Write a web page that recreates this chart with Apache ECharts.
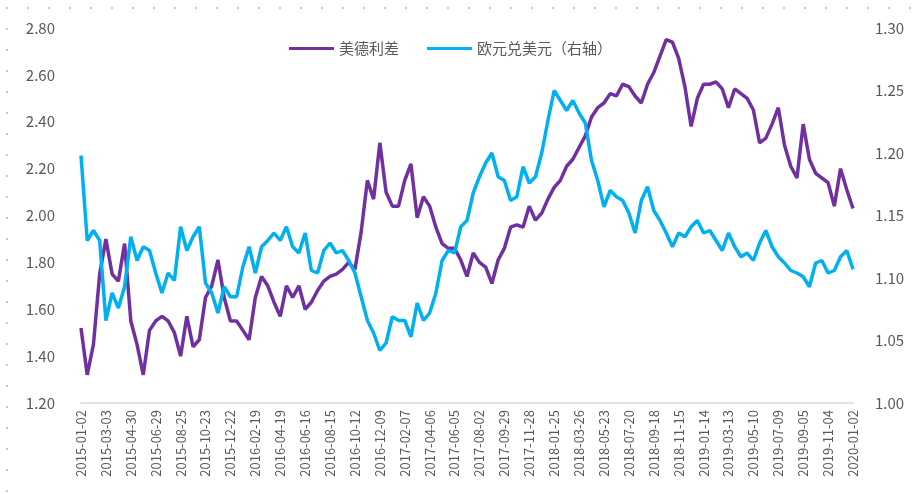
<!DOCTYPE html>
<html>
<head>
<meta charset="utf-8">
<script src="https://cdn.jsdelivr.net/npm/echarts@6/dist/echarts.min.js"></script>
<style>
  html, body { margin: 0; padding: 0; background: #fff; }
  #chart { width: 916px; height: 494px; }
</style>
</head>
<body>
<div id="chart"></div>
<script>
  // tick labels on the date axis, every 4th point
  const tickLabels = [
    "2015-01-02", "2015-03-03", "2015-04-30", "2015-06-29", "2015-08-25", "2015-10-23",
    "2015-12-22", "2016-02-19", "2016-04-19", "2016-06-16", "2016-08-15", "2016-10-12",
    "2016-12-09", "2017-02-07", "2017-04-06", "2017-06-05", "2017-08-02", "2017-09-29",
    "2017-11-28", "2018-01-25", "2018-03-26", "2018-05-23", "2018-07-20", "2018-09-18",
    "2018-11-15", "2019-01-14", "2019-03-13", "2019-05-10", "2019-07-09", "2019-09-05",
    "2019-11-04", "2020-01-02"
  ];
  const pointsPerTick = 4;

  // 美德利差 (left axis)
  const spread = [
    1.52, 1.32, 1.45, 1.75, 1.90, 1.75, 1.72, 1.88, 1.55, 1.45, 1.32, 1.51, 1.55, 1.57, 1.55, 1.50,
    1.40, 1.57, 1.44, 1.47, 1.65, 1.70, 1.81, 1.65, 1.55, 1.55, 1.51, 1.47, 1.65, 1.74, 1.70, 1.63,
    1.57, 1.70, 1.65, 1.70, 1.60, 1.63, 1.68, 1.72, 1.74, 1.75, 1.77, 1.80, 1.77, 1.93, 2.15, 2.07,
    2.31, 2.10, 2.04, 2.04, 2.15, 2.22, 1.99, 2.08, 2.04, 1.95, 1.88, 1.86, 1.86, 1.81, 1.74, 1.84,
    1.80, 1.78, 1.71, 1.81, 1.86, 1.95, 1.96, 1.95, 2.04, 1.98, 2.01, 2.07, 2.12, 2.15, 2.21, 2.24,
    2.29, 2.34, 2.42, 2.46, 2.48, 2.52, 2.51, 2.56, 2.55, 2.51, 2.48, 2.56, 2.61, 2.68, 2.75, 2.74,
    2.67, 2.55, 2.38, 2.50, 2.56, 2.56, 2.57, 2.54, 2.46, 2.54, 2.52, 2.50, 2.45, 2.31, 2.33, 2.39,
    2.46, 2.30, 2.21, 2.16, 2.39, 2.24, 2.18, 2.16, 2.14, 2.04, 2.20, 2.11, 2.03
  ];

  // 欧元兑美元 (right axis)
  const eurusd = [
    1.198, 1.130, 1.138, 1.130, 1.066, 1.088, 1.076, 1.093, 1.133, 1.114, 1.125, 1.122, 1.104, 1.088, 1.104, 1.098,
    1.141, 1.122, 1.133, 1.141, 1.096, 1.088, 1.072, 1.093, 1.085, 1.085, 1.109, 1.125, 1.104, 1.125, 1.130, 1.136,
    1.130, 1.141, 1.125, 1.120, 1.136, 1.106, 1.104, 1.122, 1.128, 1.120, 1.122, 1.114, 1.104, 1.085, 1.066, 1.056,
    1.042, 1.048, 1.069, 1.066, 1.066, 1.053, 1.080, 1.066, 1.072, 1.088, 1.114, 1.122, 1.120, 1.141, 1.146, 1.168,
    1.181, 1.192, 1.200, 1.181, 1.178, 1.162, 1.165, 1.189, 1.176, 1.181, 1.200, 1.226, 1.250, 1.242, 1.234, 1.242,
    1.232, 1.224, 1.194, 1.178, 1.157, 1.170, 1.165, 1.162, 1.152, 1.136, 1.162, 1.173, 1.154, 1.146, 1.136, 1.125,
    1.136, 1.133, 1.141, 1.146, 1.136, 1.138, 1.130, 1.122, 1.136, 1.125, 1.117, 1.120, 1.114, 1.128, 1.138, 1.125,
    1.117, 1.112, 1.106, 1.104, 1.101, 1.093, 1.112, 1.114, 1.104, 1.106, 1.117, 1.122, 1.107
  ];

  const categories = [];
  tickLabels.forEach((label, i) => {
    categories.push(label);
    if (i < tickLabels.length - 1) {
      for (let j = 1; j < pointsPerTick; j++) {
        categories.push("");
      }
    }
  });

  const textColor = "#595959";
  const font = "'Noto Sans CJK SC', 'Noto Sans', sans-serif";

  const chart = echarts.init(document.getElementById("chart"));
  chart.setOption({
    animation: false,
    textStyle: { fontFamily: font },
    color: ["#7030A0", "#00B0F0"],
    graphic: [{
      type: "polyline",
      shape: { points: [[7, 492], [7, 8], [912, 8]] },
      style: { stroke: "#c8c8c8", lineWidth: 2, lineDash: [2, 19], fill: null },
      silent: true
    }],
    legend: {
      top: 36,
      left: 284,
      itemWidth: 45,
      itemHeight: 3,
      itemGap: 28,
      icon: "rect",
      textStyle: { color: textColor, fontSize: 15, fontFamily: font },
      data: ["美德利差", "欧元兑美元（右轴）"]
    },
    grid: {
      left: 81,
      right: 63,
      top: 28,
      bottom: 91,
      containLabel: false
    },
    xAxis: {
      type: "category",
      data: categories,
      boundaryGap: false,
      axisLine: { lineStyle: { color: "#d9d9d9", width: 1.5 } },
      axisTick: { show: false },
      axisLabel: {
        interval: pointsPerTick - 1,
        rotate: 90,
        margin: 7,
        color: textColor,
        fontSize: 13,
        fontFamily: font
      },
      splitLine: { show: false }
    },
    yAxis: [{
      type: "value",
      min: 1.2,
      max: 2.8,
      interval: 0.2,
      axisLine: { show: false },
      axisTick: { show: false },
      splitLine: { show: false },
      axisLabel: {
        margin: 26,
        color: textColor,
        fontSize: 15,
        fontFamily: font,
        formatter: (v) => v.toFixed(2)
      }
    }, {
      type: "value",
      min: 1.0,
      max: 1.3,
      interval: 0.05,
      axisLine: { show: false },
      axisTick: { show: false },
      splitLine: { show: false },
      axisLabel: {
        margin: 22,
        color: textColor,
        fontSize: 15,
        fontFamily: font,
        formatter: (v) => v.toFixed(2)
      }
    }],
    series: [{
      name: "美德利差",
      type: "line",
      data: spread,
      yAxisIndex: 0,
      showSymbol: false,
      lineStyle: { width: 3.5, color: "#7030A0" }
    }, {
      name: "欧元兑美元（右轴）",
      type: "line",
      data: eurusd,
      yAxisIndex: 1,
      showSymbol: false,
      lineStyle: { width: 3.5, color: "#00B0F0" }
    }]
  });
</script>
</body>
</html>
